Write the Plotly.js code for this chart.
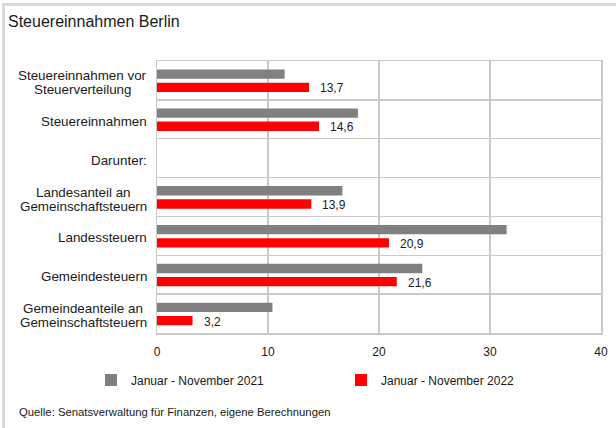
<!DOCTYPE html>
<html><head><meta charset="utf-8">
<script src="https://cdn.plot.ly/plotly-3.0.1.min.js"></script>
<style>
html,body{margin:0;padding:0;background:#fff;}
#wrap{position:relative;width:616px;height:428px;overflow:hidden;}
#chart{width:616px;height:428px;}
#frame{position:absolute;left:2px;top:3px;width:700px;height:500px;border-left:3px solid #d9d9d9;border-top:3px solid #d9d9d9;pointer-events:none;}
</style>
</head><body>
<div id="wrap"><div id="chart"></div><div id="frame"></div></div>
<script>
const categories = ["Steuereinnahmen vor<br>Steuerverteilung", "Steuereinnahmen", "Darunter:", "Landesanteil an<br>Gemeinschaftsteuern", "Landessteuern", "Gemeindesteuern", "Gemeindeanteile an<br>Gemeinschaftsteuern"];
const values2021 = [11.5, 18.1, null, 16.7, 31.5, 23.9, 10.4];
const values2022 = [13.7, 14.6, null, 13.9, 20.9, 21.6, 3.2];
const seriesNames = ["Januar - November 2021", "Januar - November 2022"];
const xTickValues = [0, 10, 20, 30, 40];
const chartTitle = "Steuereinnahmen Berlin";
const sourceText = "Quelle: Senatsverwaltung für Finanzen, eigene Berechnungen";

const W = 616, H = 428;
const M = {l: 157, r: 15, t: 61, b: 95};
const plotW = W - M.l - M.r, plotH = H - M.t - M.b;
const px2paperX = px => (px - M.l) / plotW;
const px2paperY = py => (H - M.b - py) / plotH;

const fontFamily = "Liberation Sans";
const font = "Liberation Sans, Arial, sans-serif";
const textColor = "#1a1a1a";
const gridColor = "#c9c9c9";
const catFontSize = 13.4;
const catLineHeight = 14;

const traces = [
  {type: "bar", orientation: "h", name: seriesNames[0], y: categories, x: values2021, legend: "legend",
   marker: {color: "#808080"}, offset: -0.28, width: 0.24, hoverinfo: "skip"},
  {type: "bar", orientation: "h", name: seriesNames[1], y: categories, x: values2022, legend: "legend2",
   marker: {color: "#ff0000"}, offset: 0.06, width: 0.24, hoverinfo: "skip"}
];

// measure text for centred multi-line category labels, right-aligned block
const cv = document.createElement("canvas").getContext("2d");
cv.font = catFontSize + "px '" + fontFamily + "'";
const labelRight = M.l - 10;

const annotations = [];
categories.forEach((c) => {
  const lines = c.split("<br>");
  const maxW = Math.max(...lines.map(l => cv.measureText(l).width));
  const cx = labelRight - maxW / 2;
  lines.forEach((ln, j) => {
    const off = (j - (lines.length - 1) / 2) * catLineHeight;
    annotations.push({xref: "paper", yref: "y", x: px2paperX(cx), y: c, xanchor: "center", yanchor: "middle",
      yshift: -off - 2, showarrow: false, text: ln,
      font: {family: font, size: catFontSize, color: textColor}});
  });
});
values2022.forEach((v, i) => {
  if (v === null) return;
  annotations.push({xref: "x", yref: "y", x: v, y: categories[i], xanchor: "left", yanchor: "middle",
    xshift: 9, yshift: -8, showarrow: false, text: v.toFixed(1).replace(".", ","),
    font: {family: font, size: 12, color: textColor}});
});
annotations.push({xref: "paper", yref: "paper", x: px2paperX(17), y: px2paperY(412), xanchor: "left", yanchor: "middle",
  showarrow: false, text: sourceText, font: {family: font, size: 11.3, color: textColor}});

const legendBase = {orientation: "h", xref: "container", yref: "container", y: 1 - 380 / H, xanchor: "left", yanchor: "middle",
  font: {family: font, size: 12, color: textColor}, bgcolor: "rgba(0,0,0,0)"};

const layout = {
  width: W, height: H,
  margin: M,
  paper_bgcolor: "#fff", plot_bgcolor: "#fff",
  barmode: "overlay",
  showlegend: true,
  title: {text: chartTitle, x: 8 / W, xref: "container", xanchor: "left", y: 1 - 21 / H, yref: "container", yanchor: "middle",
    font: {family: font, size: 16, color: textColor}},
  xaxis: {range: [0, 40], tickvals: xTickValues, ticktext: xTickValues.map(String), showgrid: true, gridcolor: gridColor, gridwidth: 1.5,
    zeroline: false, showline: true, linecolor: gridColor, linewidth: 1.5, mirror: true, ticks: "", ticklabelstandoff: 7,
    tickfont: {family: font, size: 12, color: textColor}, fixedrange: true},
  yaxis: {type: "category", autorange: "reversed", tickson: "boundaries", showgrid: true, gridcolor: gridColor, gridwidth: 1.5,
    showline: true, linecolor: gridColor, linewidth: 1.5, mirror: true, ticks: "", showticklabels: false, fixedrange: true},
  legend: Object.assign({}, legendBase, {x: 91 / W}),
  legend2: Object.assign({}, legendBase, {x: 341 / W}),
  annotations: annotations
};

Plotly.newPlot("chart", traces, layout, {staticPlot: true, displayModeBar: false});
</script>
</body></html>
